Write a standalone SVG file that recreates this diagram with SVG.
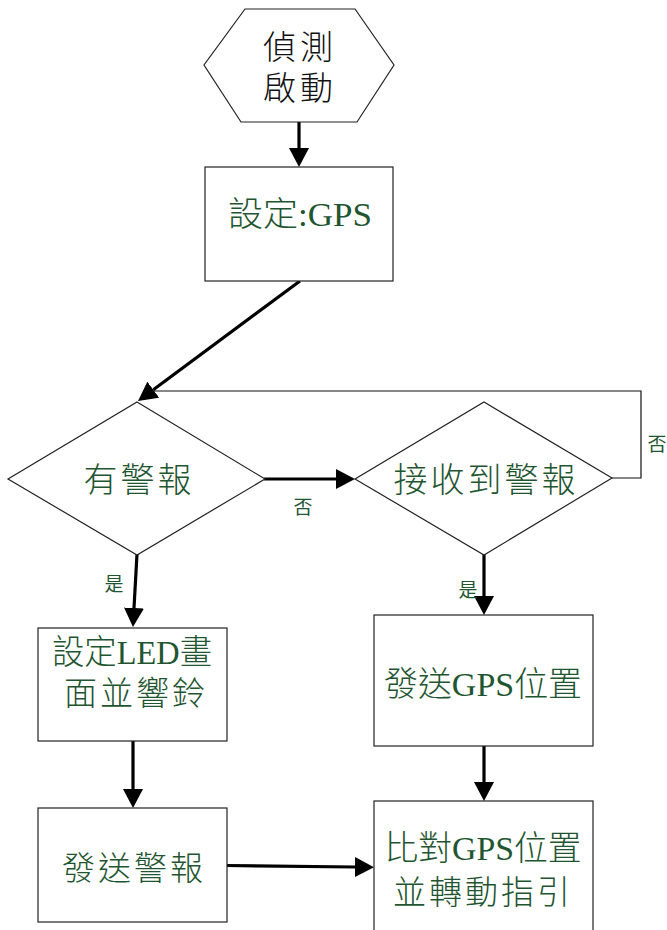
<svg xmlns="http://www.w3.org/2000/svg" width="667" height="930" viewBox="0 0 667 930">
<style>
.shape{fill:#fff;stroke:#222;stroke-width:1.2}
.t{font-family:"Liberation Serif","Noto Sans CJK TC",serif;fill:#1f5530;text-anchor:middle;font-weight:300}
.s{letter-spacing:3px}
.tb{font-family:"Liberation Serif","Noto Sans CJK TC",serif;fill:#111;text-anchor:middle;font-weight:300;letter-spacing:4px}
.c{fill:none;stroke:#000;stroke-width:3.2}
.thin{fill:none;stroke:#111;stroke-width:1.2}
.lbl{font-family:"Noto Sans CJK TC",sans-serif;fill:#1f5530;font-size:19px;text-anchor:middle}
</style>
<defs>
<marker id="ah" viewBox="0 -10 19 20" markerWidth="19" markerHeight="20" refX="0" refY="0" orient="auto" markerUnits="userSpaceOnUse">
<path d="M0,-10 L19,0 L0,10 z" fill="#000"/>
</marker>
</defs>
<rect width="667" height="930" fill="#fff"/>
<g id="connectors">
<line class="c" x1="299" y1="122" x2="299" y2="148" marker-end="url(#ah)"/>
<line class="c" x1="300" y1="281" x2="153.3" y2="389.7" marker-end="url(#ah)"/>
<line class="c" x1="264" y1="479" x2="336" y2="479" marker-end="url(#ah)"/>
<line class="c" x1="137" y1="554" x2="134" y2="608" marker-end="url(#ah)"/>
<line class="c" x1="484" y1="554" x2="484" y2="596" marker-end="url(#ah)"/>
<line class="c" x1="133" y1="741" x2="133" y2="789" marker-end="url(#ah)"/>
<line class="c" x1="484" y1="746" x2="484" y2="782" marker-end="url(#ah)"/>
<line class="c" x1="227" y1="865.5" x2="355" y2="867" marker-end="url(#ah)"/>
<polyline class="thin" points="612,478 641,478 641,391 152,391"/>
<text class="lbl" x="303" y="514">否</text>
<text class="lbl" x="657" y="451">否</text>
<text class="lbl" x="114" y="591">是</text>
<text class="lbl" x="468" y="597">是</text>
</g>
<g id="start">
<polygon class="shape" points="245,9 355,9 394,65 357,122 241,122 204,65"/>
<text class="tb" x="300" y="59" font-size="33">偵測</text>
<text class="tb" x="300" y="100" font-size="33">啟動</text>
</g>
<g id="setgps">
<rect class="shape" x="205" y="167" width="188" height="114"/>
<text class="t" x="300" y="226" font-size="34" textLength="144" lengthAdjust="spacingAndGlyphs">設定:GPS</text>
</g>
<g id="alarm">
<polygon class="shape" points="137,402 265,479 137,555 8,479"/>
<text class="t s" x="139" y="492" font-size="34">有警報</text>
</g>
<g id="received">
<polygon class="shape" points="484,402 612,478 484,555 355,479"/>
<text class="t s" x="486" y="492" font-size="34">接收到警報</text>
</g>
<g id="led">
<rect class="shape" x="38" y="628" width="189" height="113"/>
<text class="t" x="132" y="664" font-size="34" textLength="160" lengthAdjust="spacingAndGlyphs">設定LED畫</text>
<text class="t s" x="136" y="705" font-size="33">面並響鈴</text>
</g>
<g id="sendalarm">
<rect class="shape" x="38" y="808" width="189" height="114"/>
<text class="t s" x="134" y="880" font-size="33">發送警報</text>
</g>
<g id="sendgps">
<rect class="shape" x="374" y="615" width="219" height="131"/>
<text class="t" x="483" y="696" font-size="34" textLength="198" lengthAdjust="spacingAndGlyphs">發送GPS位置</text>
</g>
<g id="compare">
<rect class="shape" x="374" y="801" width="219" height="140"/>
<text class="t" x="483" y="860" font-size="34" textLength="197" lengthAdjust="spacingAndGlyphs">比對GPS位置</text>
<text class="t s" x="483" y="904" font-size="33">並轉動指引</text>
</g>
</svg>
